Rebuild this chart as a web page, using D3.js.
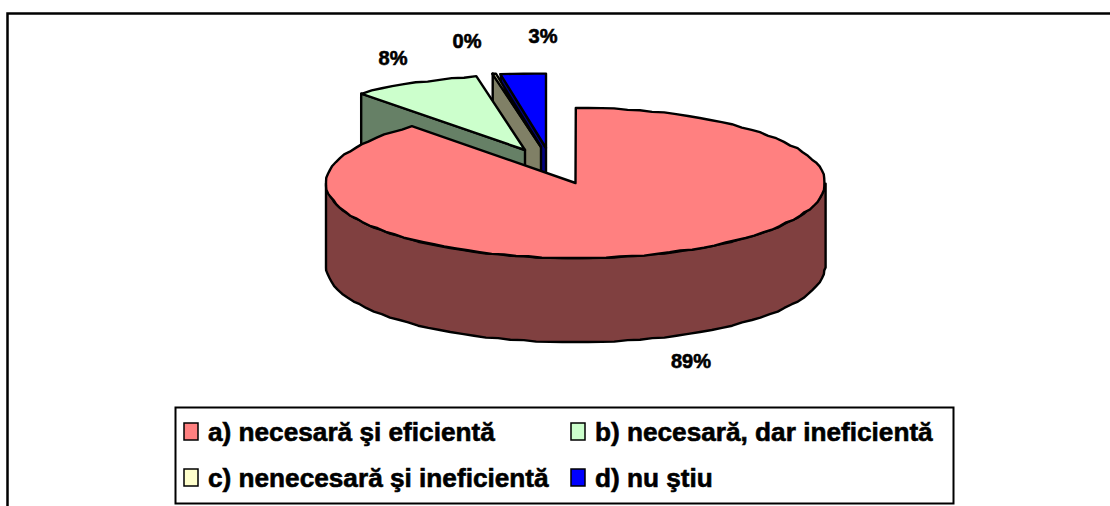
<!DOCTYPE html>
<html><head><meta charset="utf-8">
<script src="https://cdnjs.cloudflare.com/ajax/libs/d3/7.8.5/d3.min.js"></script>
<style>html,body{margin:0;padding:0;background:#fff}svg{display:block}
text{font-family:"Liberation Sans",Arial,sans-serif;font-weight:700;fill:#000;stroke:#000;stroke-width:.6px}</style>
</head><body><div id="c"></div>
<script>
const categories = ["a) necesară şi eficientă","b) necesară, dar ineficientă","c) nenecesară şi ineficientă","d) nu ştiu"];
const values = [88.6, 8.3, 0.2, 2.9];
const topColors = ["#FF8080","#CCFFCC","#FFFFCC","#0000FF"];
const wallColors = ["#804040","#668066","#808066","#000080"];

const W=1110,H=506;
const svg=d3.select("#c").append("svg").attr("width",W).attr("height",H);
const cx=575.5,cy=183,rx=249.5,ry=75,depth=84;
const explode=[[0,0],[-50.5,-33],[-34.5,-36],[-29.5,-35]];
const labelPos=[[691,368],[393,65],[467,48],[543,43]];
const pct=d3.format(".0f");

// frame
svg.append("path").attr("d",`M7.5,${H}V13.5H${W}`).attr("fill","none").attr("stroke","#000").attr("stroke-width",2.5);

const pie=d3.pie().sort(null).value(d=>d)(values);
const step=3*Math.PI/180;
function pt(a,dx,dy,down=0){
  const x=cx+dx+rx*Math.sin(a), y=cy+dy-ry*Math.cos(a)+down;
  return [Math.round(x/2)*2+ (x-Math.round(x/2)*2)*.4, Math.round(y/2)*2+(y-Math.round(y/2)*2)*.4];
}
const line=d3.line();
function arcPts(a0,a1,dx,dy,down=0){
  const n=Math.max(1,Math.ceil(Math.abs(a1-a0)/step)), s=d3.range(n+1).map(i=>a0+(a1-a0)*i/n);
  return s.map(a=>pt(a,dx,dy,down));
}
function draw(points,fill){
  svg.append("path").attr("d",line(points)+"Z").attr("fill",fill).attr("stroke","#000").attr("stroke-width",2.4).attr("stroke-linejoin","round");
}
[3,2,1].forEach(i=>{
  const p=pie[i],[dx,dy]=explode[i];
  const apex=[cx+dx,cy+dy], out=[cx+dx+rx*Math.sin(p.startAngle),cy+dy-ry*Math.cos(p.startAngle)];
  draw([apex,out,[out[0],out[1]+depth],[apex[0],apex[1]+depth]],wallColors[i]);
  draw([apex,...arcPts(p.startAngle,p.endAngle,dx,dy)],topColors[i]);
});
{
  const p=pie[0];
  draw([...arcPts(Math.PI/2,3*Math.PI/2,0,0),...arcPts(3*Math.PI/2,Math.PI/2,0,0,depth)],wallColors[0]);
  draw([[cx,cy],...arcPts(p.startAngle,p.endAngle,0,0)],topColors[0]);
}
pie.forEach((p,i)=>{
  svg.append("text").attr("x",labelPos[i][0]).attr("y",labelPos[i][1]).attr("text-anchor","middle").attr("font-size",20).text(pct(values[i])+"%");
});
svg.append("rect").attr("x",175.5).attr("y",407.5).attr("width",778).attr("height",96).attr("fill","#fff").attr("stroke","#000").attr("stroke-width",2);
const legX=[184,571],legY=[423,469];
categories.forEach((c,i)=>{
  const x=legX[i%2],y=legY[i>>1];
  svg.append("rect").attr("x",x).attr("y",y).attr("width",14).attr("height",17).attr("fill",topColors[i]).attr("stroke","#000").attr("stroke-width",1.5);
  svg.append("text").attr("x",x+24).attr("y",y+18).attr("font-size",26.2).text(c);
});
</script></body></html>
